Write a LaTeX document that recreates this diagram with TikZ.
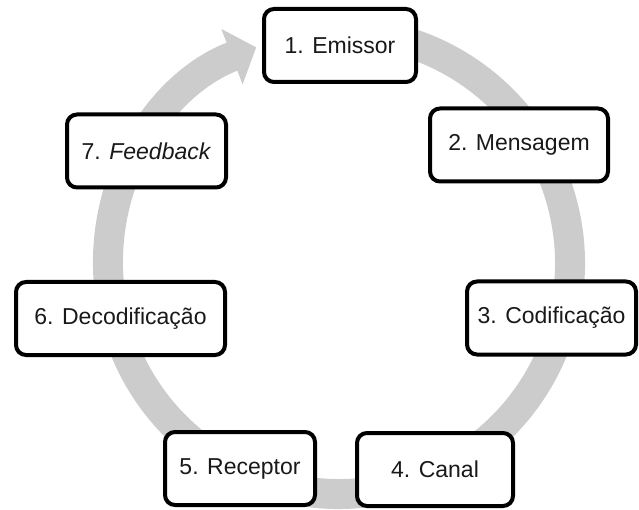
\documentclass[tikz,border=0pt]{standalone}
\usepackage{fontspec}
\setmainfont{Liberation Sans}
\usetikzlibrary{arrows.meta, positioning}
\definecolor{ringgray}{RGB}{204,204,204}
\definecolor{textgray}{RGB}{25,25,25}

\begin{document}
\begin{tikzpicture}[x=1pt, y=1pt,
  stage/.style={draw, line width=4pt, rounded corners=10pt, fill=white,
    minimum height=73pt, inner sep=0pt, text=textgray,
    font=\fontsize{23}{28}\selectfont}]
  \useasboundingbox (0,0) rectangle (639,509);
  \coordinate (ctr) at (339,246);

  % gray cycle behind the boxes
  \draw[ringgray, line width=30pt, -{Triangle[length=26pt, width=58pt]}]
    ([shift={(100:231)}]ctr) arc[start angle=100, end angle=-249, radius=231];

  \node[stage, minimum width=152pt] (emissor) at (340,463.5) {1. Emissor};
  \node[stage, minimum width=178pt] (mensagem) at (519,364) {2. Mensagem};
  \node[stage, minimum width=169pt] (codif) at (551.5,191) {3. Codificação};
  \node[stage, minimum width=156pt] (canal) at (435,39.5) {4. Canal};
  \node[stage, minimum width=150pt] (receptor) at (240,40.5) {5. Receptor};
  \node[stage, minimum width=209pt] (decodif) at (120.5,190.5) {6. Decodificação};
  \node[stage, minimum width=159pt] (feedback) at (146.5,358) {7. \textit{Feedback}};
\end{tikzpicture}
\end{document}
